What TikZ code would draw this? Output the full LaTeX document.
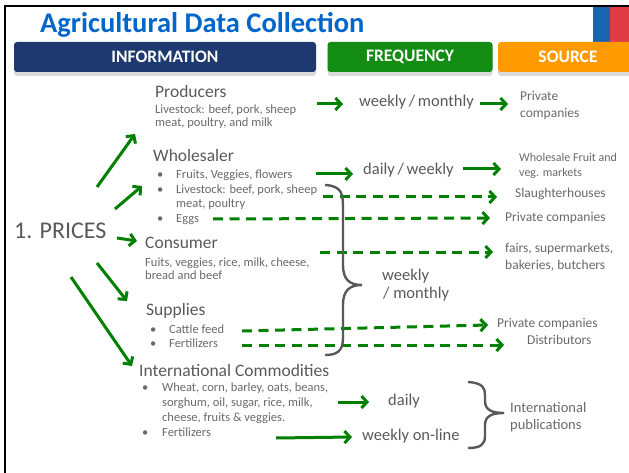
\documentclass[tikz,border=0pt]{standalone}
\usepackage{fontspec}
\setmainfont{Carlito}
\usetikzlibrary{arrows.meta,shadows}
\definecolor{titleblue}{RGB}{0,102,204}
\definecolor{infoblue}{RGB}{30,57,112}
\definecolor{freqgreen}{RGB}{18,140,18}
\definecolor{srcorange}{RGB}{255,155,0}
\definecolor{cornerblue}{RGB}{25,100,175}
\definecolor{cornerred}{RGB}{225,60,70}
\definecolor{arrgreen}{RGB}{0,128,0}
\definecolor{headgray}{RGB}{89,89,89}
\definecolor{txtgray}{RGB}{105,105,105}
\newcommand\itembul{\makebox[19pt][l]{•}}

\begin{document}
\begin{tikzpicture}[x=1pt,y=-1pt]
\useasboundingbox (0,0) rectangle (629,473);
% corner blocks and frame
\fill[cornerblue] (593,6) rectangle (610,46);
\fill[cornerred] (610,6) rectangle (629,46);
\draw[line width=2pt] (5,473) -- (5,6) -- (629,6);
\node[anchor=base west,inner sep=0pt,text=titleblue,
      font=\fontsize{28.5}{32}\selectfont\bfseries] (title) at (40,33) {Agricultural Data Collection};
\begin{scope}[every node/.style={rounded corners=3pt,minimum height=30pt,text=white,
      font=\fontsize{17.5}{20}\selectfont\bfseries,
      drop shadow={shadow xshift=0pt,shadow yshift=-4pt,opacity=0.3}}]
    \node[fill=infoblue,minimum width=302pt] (info) at (165,57) {INFORMATION};
    \node[fill=freqgreen,minimum width=165pt] (freq) at (410,57) {FREQUENCY};
    \node[fill=srcorange,minimum width=140pt] (source) at (568,57) {SOURCE};
\end{scope}
% multi-line nodes sit on the baseline of their last line
\begin{scope}[every node/.style={anchor=base west,inner sep=0pt,align=left}]
    \node[text=headgray,font=\fontsize{24}{28}\selectfont] (prices) at (14,239) {1. PRICES};
    % information column
    \node[text=headgray,font=\fontsize{17.5}{20}\selectfont] (producers) at (155,98) {Producers};
    \node[text=txtgray,font=\fontsize{12.5}{13}\selectfont] (prodlist) at (155,127) {Livestock: beef, pork, sheep\\meat, poultry, and milk};
    \node[text=headgray,font=\fontsize{17.5}{20}\selectfont] (wholesaler) at (153,162) {Wholesaler};
    \node[text=txtgray,font=\fontsize{12.5}{14.4}\selectfont] (wholelist) at (157,222.2) {\itembul Fruits, Veggies, flowers\\\itembul Livestock: beef, pork, sheep\\\hspace*{19pt}meat, poultry\\\itembul Eggs};
    \node[text=headgray,font=\fontsize{17.5}{20}\selectfont] (consumer) at (145,248) {Consumer};
    \node[text=txtgray,font=\fontsize{12.5}{13}\selectfont] (conslist) at (145,279) {Fuits, veggies, rice, milk, cheese,\\bread and beef};
    \node[text=headgray,font=\fontsize{17.5}{20}\selectfont] (supplies) at (146,315) {Supplies};
    \node[text=txtgray,font=\fontsize{12.5}{14.5}\selectfont] (supplist) at (150,347.5) {\itembul Cattle feed\\\itembul Fertilizers};
    \node[text=headgray,font=\fontsize{17.5}{20}\selectfont] (intl) at (139,376) {International Commodities};
    \node[text=txtgray,font=\fontsize{12.5}{14.7}\selectfont] (intllist) at (142,436) {\makebox[20pt][l]{•}Wheat, corn, barley, oats, beans,\\\hspace*{20pt}sorghum, oil, sugar, rice, milk,\\\hspace*{20pt}cheese, fruits \& veggies.\\\makebox[20pt][l]{•}Fertilizers};
    % frequency column
    \node[text=headgray,font=\fontsize{16.5}{18}\selectfont] (weekmonth) at (359,107) {weekly\,/\,monthly};
    \node[text=headgray,font=\fontsize{16.5}{18}\selectfont] (dailyweek) at (363,175) {daily\,/\,weekly};
    \node[text=headgray,font=\fontsize{16.5}{18}\selectfont] (weekly) at (382,298) {weekly\\\hspace*{1pt}/ monthly};
    \node[text=headgray,font=\fontsize{16.5}{18}\selectfont] (daily) at (388,405) {daily};
    \node[text=headgray,font=\fontsize{16.5}{18}\selectfont] (online) at (362,440) {weekly on-line};
    % source column
    \node[text=txtgray,font=\fontsize{13.5}{17}\selectfont] (privcomp) at (520,118) {Private\\companies};
    \node[text=txtgray,font=\fontsize{12}{15}\selectfont] (market) at (519,177) {Wholesale Fruit and\\veg. markets};
    \node[text=txtgray,font=\fontsize{13.5}{17}\selectfont] (slaughter) at (515,198) {Slaughterhouses};
    \node[text=txtgray,font=\fontsize{13.5}{17}\selectfont] (eggcomp) at (505,222) {Private companies};
    \node[text=txtgray,font=\fontsize{13.5}{17}\selectfont] (fairs) at (505,269) {fairs, supermarkets,\\bakeries, butchers};
    \node[text=txtgray,font=\fontsize{13.5}{17}\selectfont] (feedcomp) at (497,327) {Private companies};
    \node[text=txtgray,font=\fontsize{13.5}{17}\selectfont] (distrib) at (527,344) {Distributors};
    \node[text=txtgray,font=\fontsize{14.5}{17}\selectfont] (publ) at (510,429) {International\\publications};
\end{scope}
% arrow ends
\coordinate (p1) at (97,187);   \coordinate (p1e) at (135,134);
\coordinate (p2) at (115,209);  \coordinate (p2e) at (142,186);
\coordinate (p3) at (117,238);  \coordinate (p3e) at (137,241);
\coordinate (p4) at (97,263);   \coordinate (p4e) at (127,301);
\coordinate (p5) at (71,277);   \coordinate (p5e) at (132,366);
\coordinate (f1) at (317,104);  \coordinate (f1e) at (343,104);
\coordinate (s1) at (480,104);  \coordinate (s1e) at (508,104);
\coordinate (f2) at (316,174);  \coordinate (f2e) at (353,174);
\coordinate (s2) at (463,169);  \coordinate (s2e) at (501,169);
\coordinate (d1) at (323,197);  \coordinate (d1e) at (497,197);
\coordinate (d2) at (213,219);  \coordinate (d2e) at (490,218);
\coordinate (d3) at (320,252);  \coordinate (d3e) at (493,252);
\coordinate (d4) at (242,331);  \coordinate (d4e) at (488,325);
\coordinate (d5) at (242,345);  \coordinate (d5e) at (504,345);
\coordinate (f3) at (338,402);  \coordinate (f3e) at (369,402);
\coordinate (f4) at (276,438);  \coordinate (f4e) at (352,437);
\begin{scope}[every edge/.style={draw=arrgreen,line width=3pt,
              -{Straight Barb[length=5.5pt,width=12pt]}}]
    \path (p1) edge (p1e);
    \path (p2) edge (p2e);
    \path (p3) edge (p3e);
    \path (p4) edge (p4e);
    \path (p5) edge (p5e);
    \path (f1) edge (f1e);
    \path (s1) edge (s1e);
    \path (f2) edge (f2e);
    \path (s2) edge (s2e);
    \path (f3) edge (f3e);
    \path (f4) edge (f4e);
\end{scope}
\begin{scope}[every edge/.style={draw=arrgreen,line width=3pt,dash pattern=on 10pt off 6.5pt,
              -{Straight Barb[length=5.5pt,width=12pt]}}]
    \path (d1) edge (d1e);
    \path (d2) edge (d2e);
    \path (d3) edge (d3e);
    \path (d4) edge (d4e);
    \path (d5) edge (d5e);
\end{scope}
% braces
\begin{scope}[draw=headgray,line width=2.4pt]
    \draw (325,185) .. controls (343,186) and (343,195) .. (343,210) -- (343,265)
          .. controls (343,280) and (350,285) .. (362,285)
          .. controls (350,285) and (343,290) .. (343,305) -- (343,338)
          .. controls (343,352) and (336,355) .. (325,355);
    \draw (468,382) .. controls (483,383) and (485,388) .. (485,395) -- (485,401)
          .. controls (485,410) and (492,413) .. (504,413)
          .. controls (492,413) and (485,416) .. (485,425) -- (485,436)
          .. controls (485,445) and (480,448) .. (468,448);
\end{scope}
\end{tikzpicture}
\end{document}
